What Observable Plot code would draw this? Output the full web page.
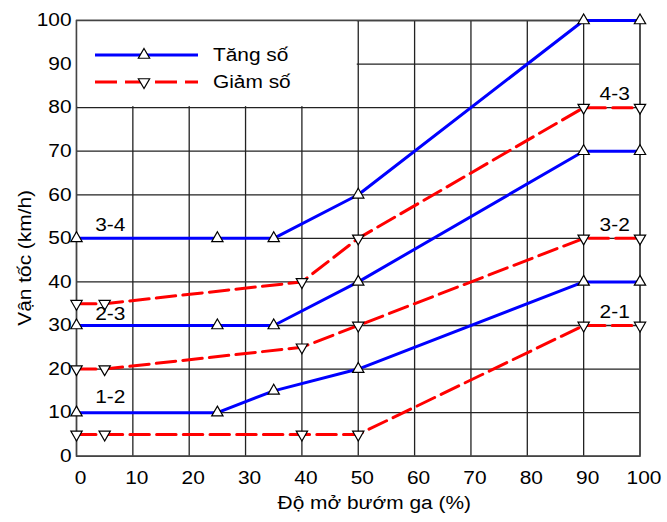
<!DOCTYPE html>
<html>
<head>
<meta charset="utf-8">
<script src="https://cdn.jsdelivr.net/npm/d3@7"></script>
<script src="https://cdn.jsdelivr.net/npm/@observablehq/plot@0.6"></script>
<style>
  html, body { margin: 0; padding: 0; background: #fff; }
  #chart { width: 667px; height: 522px; }
  svg { font-family: "Liberation Sans", Arial, sans-serif; }
</style>
</head>
<body>
<div id="chart"></div>
<script>
// ---- data ----
const xTicks = [0, 10, 20, 30, 40, 50, 60, 70, 80, 90, 100];
const yTicks = [0, 10, 20, 30, 40, 50, 60, 70, 80, 90, 100];

// Tăng số (upshift)
const xUp = [0, 25, 35, 50, 90, 100];
const up12 = [10, 10, 15, 20, 40, 40];
const up23 = [30, 30, 30, 40, 70, 70];
const up34 = [50, 50, 50, 60, 100, 100];

// Giảm số (downshift)
const xDown = [0, 5, 40, 50, 90, 100];
const down21 = [5, 5, 5, 5, 30, 30];
const down32 = [20, 20, 25, 30, 50, 50];
const down43 = [35, 35, 40, 50, 80, 80];

const gearLabels = ["3-4", "2-3", "1-2", "4-3", "3-2", "2-1"];
const gearLabelX = [6, 6, 6, 95.5, 95.5, 95.5];
const gearLabelY = [53, 32.5, 13.5, 83, 53, 33];

const legendNames = ["Tăng số", "Giảm số"];
const legendArea = [{x1: 0, x2: 50, y1: 80, y2: 100}];

const xLabel = "Độ mở bướm ga (%)";
const yLabel = "Vận tốc (km/h)";

// ---- build tables ----
function series(xs, ys, name) { return xs.map((x, i) => ({x, y: ys[i], name})); }
const upSeries = [series(xUp, up12, "1-2"), series(xUp, up23, "2-3"), series(xUp, up34, "3-4")];
const downSeries = [series(xDown, down21, "2-1"), series(xDown, down32, "3-2"), series(xDown, down43, "4-3")];
const upPts = upSeries.flat();
const downPts = downSeries.flat();
const labelPts = gearLabels.map((t, i) => ({t, x: gearLabelX[i], y: gearLabelY[i]}));

const downTriangle = {
  draw(context, size) {
    const y = Math.sqrt(size / (3 * Math.sqrt(3)));
    context.moveTo(0, 2 * y);
    context.lineTo(-Math.sqrt(3) * y, -y);
    context.lineTo(Math.sqrt(3) * y, -y);
    context.closePath();
  }
};

const BLUE = "#0000ff", RED = "#ff0000", DASH = "19.5,7.2";
const FS = 18, STRETCH = 1.16;

const chart = Plot.plot({
  width: 667,
  height: 522,
  marginLeft: 76,
  marginRight: 27.5,
  marginTop: 20,
  marginBottom: 66.3,
  style: {fontFamily: "'Liberation Sans', Arial, sans-serif", fontSize: FS + "px", color: "#000", background: "#fff"},
  x: {domain: [0, 100]},
  y: {domain: [0, 100]},
  marks: [
    Plot.ruleX(xTicks, {stroke: "#222", strokeWidth: 1.3}),
    Plot.ruleY(yTicks, {stroke: "#222", strokeWidth: 1.3}),
    Plot.rect(legendArea, {x1: "x1", x2: "x2", y1: "y1", y2: "y2", fill: "white", inset: 1}),
    Plot.frame({stroke: "#444", strokeWidth: 1.5}),
    Plot.axisX({ticks: xTicks, tickSize: 0, tickPadding: 15.5, dx: 4, fontSize: FS, label: null, tickFormat: d => String(d)}),
    Plot.axisY({ticks: yTicks, tickSize: 0, tickPadding: 5, fontSize: FS, label: null, tickFormat: d => String(d)}),
    ...downSeries.map(s => Plot.line(s, {x: "x", y: "y", stroke: RED, strokeWidth: 3, strokeDasharray: DASH})),
    ...upSeries.map(s => Plot.line(s, {x: "x", y: "y", stroke: BLUE, strokeWidth: 3})),
    Plot.dot(upPts, {x: "x", y: "y", symbol: "triangle", r: 4.2, fill: "white", stroke: "#000", strokeWidth: 1.2}),
    Plot.dot(downPts, {x: "x", y: "y", symbol: downTriangle, r: 4.2, fill: "white", stroke: "#000", strokeWidth: 1.2}),
    Plot.text(labelPts, {x: "x", y: "y", text: "t", fontSize: FS, fill: "#000"}),
    Plot.text([xLabel], {frameAnchor: "bottom", text: d => d, dy: 53, dx: 16, fontSize: FS, fill: "#000"})
  ]
});

document.getElementById("chart").appendChild(chart);

const svg = d3.select(chart);

// the reference typeface is set slightly wide: stretch glyphs horizontally
svg.selectAll("text").each(function() {
  const L = this.getComputedTextLength();
  if (L > 0) {
    this.setAttribute("textLength", (L * STRETCH).toFixed(2));
    this.setAttribute("lengthAdjust", "spacingAndGlyphs");
  }
});

// ---- y axis title (rotated, stretched along its reading direction) ----
const yMid = chart.scale("y").apply(50);
svg.append("g")
  .attr("transform", `translate(25,${yMid + 20}) rotate(-90) scale(${STRETCH},1)`)
  .append("text")
  .attr("text-anchor", "middle").attr("dy", "0.35em")
  .attr("font-size", FS).attr("fill", "#000")
  .text(yLabel);

// ---- legend drawn inside the white legend area ----
const lg = svg.append("g").attr("class", "legend");
const items = [
  {name: legendNames[0], color: BLUE, dash: null, sym: d3.symbolTriangle, y: 55},
  {name: legendNames[1], color: RED, dash: "22,8", sym: downTriangle, y: 82}
];
items.forEach(it => {
  lg.append("line")
    .attr("x1", 95).attr("x2", 198).attr("y1", it.y).attr("y2", it.y)
    .attr("stroke", it.color).attr("stroke-width", 3)
    .attr("stroke-dasharray", it.dash);
  lg.append("path")
    .attr("d", d3.symbol(it.sym, Math.PI * 4.2 * 4.2)())
    .attr("transform", `translate(144,${it.y})`)
    .attr("fill", "white").attr("stroke", "#000").attr("stroke-width", 1.2);
  lg.append("g")
    .attr("transform", `translate(213,${it.y}) scale(${STRETCH},1)`)
    .append("text")
    .attr("dy", "0.35em")
    .attr("text-anchor", "start")
    .attr("font-size", FS).attr("fill", "#000")
    .text(it.name);
});
</script>
</body>
</html>
